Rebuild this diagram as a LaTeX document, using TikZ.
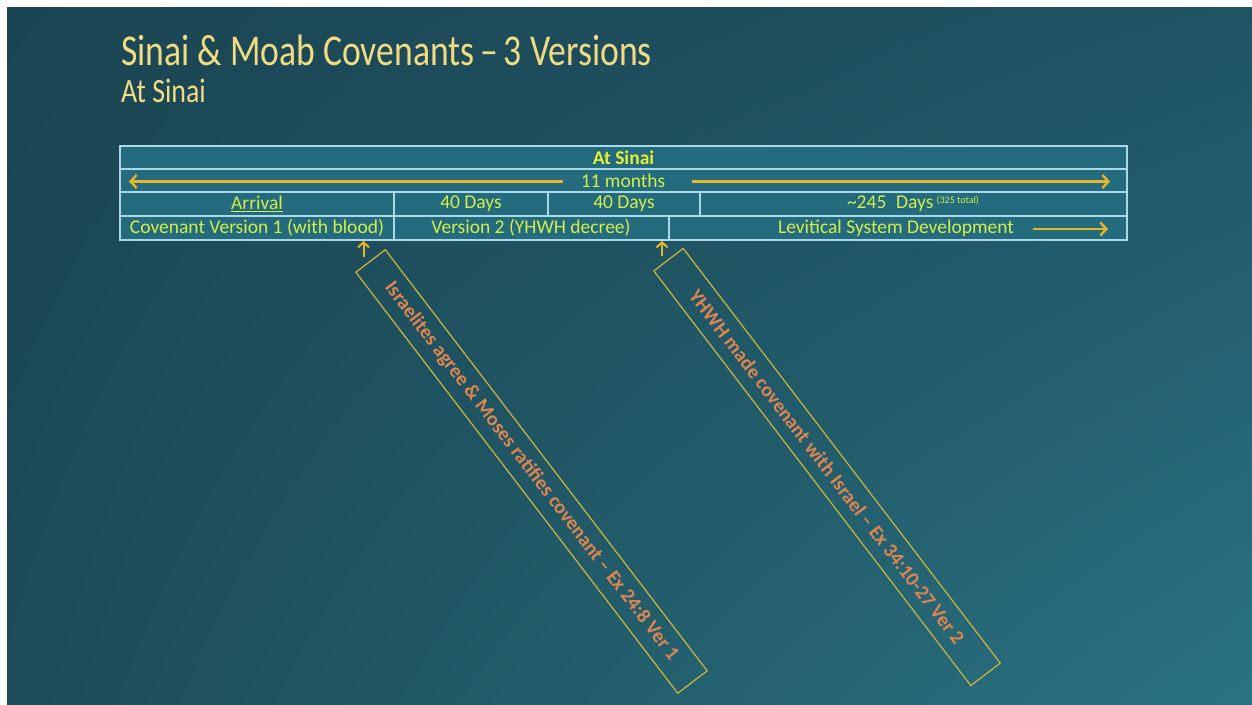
\documentclass[tikz,border=0pt]{standalone}
\usepackage{fontspec}
\setmainfont{Carlito}
\usetikzlibrary{arrows.meta,shadings}
\definecolor{bgUL}{HTML}{1B4553}
\definecolor{bgUR}{HTML}{1F5464}
\definecolor{bgLL}{HTML}{1D4B58}
\definecolor{bgLR}{HTML}{2A7383}
\definecolor{cellfill}{HTML}{236B7D}
\definecolor{gridline}{HTML}{A9D9E6}
\definecolor{celltext}{HTML}{D4EE4A}
\definecolor{headtext}{HTML}{E6F032}
\definecolor{gold}{HTML}{E8B52A}
\definecolor{titlegold}{HTML}{F2DC82}
\definecolor{noteorange}{HTML}{DE8550}
\definecolor{noteline}{HTML}{C9B83A}
\tikzset{
  celltxt/.style={text=celltext, font=\fontsize{19.5}{21}\selectfont, inner sep=0pt, anchor=center},
  gridln/.style={draw=gridline, line width=1.3pt},
  goldarrow/.style={draw=gold, line width=2.4pt, -{Straight Barb[length=6pt,width=13pt,line width=2.4pt]}},
  uparrow/.style={draw=gold, line width=2pt, -{Straight Barb[length=5pt,width=11pt,line width=2pt]}},
  notebox/.style={draw=noteline, line width=1.2pt, text=noteorange, font=\bfseries\fontsize{20}{22}\selectfont,
    minimum width=530pt, minimum height=37pt, inner sep=0pt, rotate=-52.6},
}
\begin{document}
\begin{tikzpicture}[x=1pt,y=-1pt]
\useasboundingbox (0,0) rectangle (1252,704);
\fill[white] (0,0) rectangle (1252,704);
\shade[upper left=bgUL, upper right=bgUR, lower left=bgLL, lower right=bgLR] (7,7) rectangle (1252,704);

% titles
\node[anchor=base west, inner sep=0pt, text=titlegold, font=\fontsize{44}{48}\selectfont] (title) at (121,65)
  {\scalebox{0.81}[1]{Sinai \& Moab Covenants\,–\,3 Versions}};
\node[anchor=base west, inner sep=0pt, text=titlegold, font=\fontsize{34}{37}\selectfont] (subtitle) at (121,102)
  {\scalebox{0.82}[1]{At Sinai}};

% table
\fill[cellfill] (120,146) rectangle (1127,240);
\draw[gridln] (120,146) rectangle (1127,240);
\draw[gridln] (120,169) -- (1127,169);
\draw[gridln] (120,192) -- (1127,192);
\draw[gridln] (120,216) -- (1127,216);
\draw[gridln] (394,192) -- (394,240);
\draw[gridln] (548,192) -- (548,216);
\draw[gridln] (700,192) -- (700,216);
\draw[gridln] (669,216) -- (669,240);

\node[celltxt, text=headtext, font=\bfseries\fontsize{19.5}{21}\selectfont] (head) at (623.5,157.5) {At Sinai};
\node[celltxt] (months) at (623,180.5) {11 months};
\node[celltxt] (arrival) at (257,204) {\underline{Arrival}};
\node[celltxt] (fortyA) at (471,204) {40 Days};
\node[celltxt] (fortyB) at (624,204) {40 Days};
\node[celltxt] (days) at (913,204) {\textasciitilde 245\enspace Days\,\raisebox{5pt}{\fontsize{10}{11}\selectfont(325 total)}};
\node[celltxt] (ver1) at (257,228) {Covenant Version 1 (with blood)};
\node[celltxt] (ver2) at (531,228) {Version 2 (YHWH decree)};
\node[celltxt] (levit) at (896,228) {Levitical System Development};

\coordinate (mL0) at (563,181.5);
\coordinate (mL1) at (129,181.5);
\coordinate (mR0) at (692,181.5);
\coordinate (mR1) at (1110,181.5);
\draw[goldarrow] (mL0) -- (mL1);
\draw[goldarrow] (mR0) -- (mR1);
\coordinate (lv0) at (1033,229);
\coordinate (lv1) at (1108,229);
\draw[goldarrow] (lv0) -- (lv1);

% notes
\node[notebox] (noteA) at (531.5,471.5) {Israelites agree \& Moses ratifies covenant – Ex 24:8 Ver 1};
\node[notebox, minimum width=522pt] (noteB) at (827,467) {YHWH made covenant with Israel – Ex 34:10-27 Ver 2};

\coordinate (upA0) at (363.5,257);
\coordinate (upA1) at (363.5,241);
\coordinate (upB0) at (662,256);
\coordinate (upB1) at (662,241);
\draw[uparrow] (upA0) -- (upA1);
\draw[uparrow] (upB0) -- (upB1);
\end{tikzpicture}
\end{document}
